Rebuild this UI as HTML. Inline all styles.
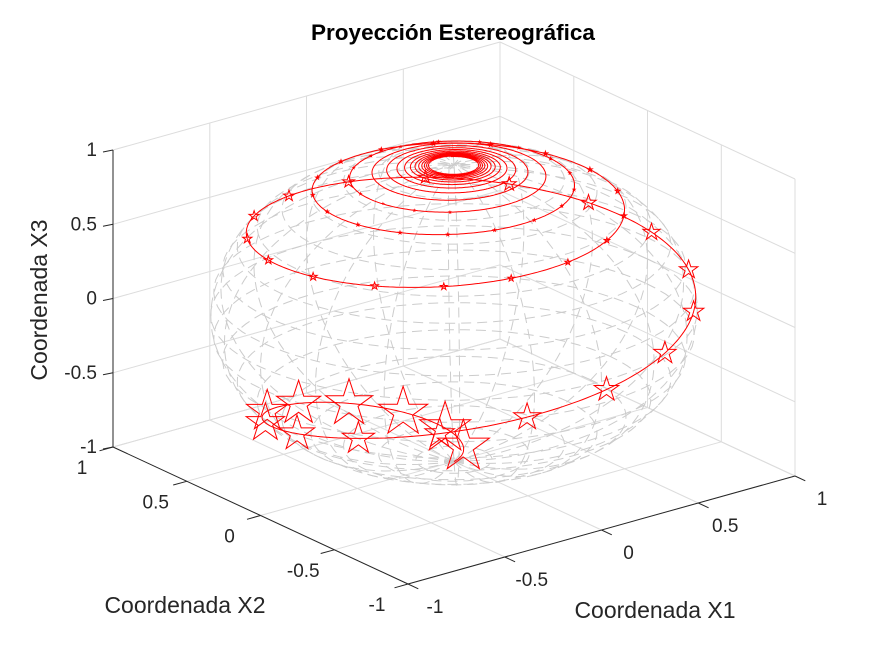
<!DOCTYPE html>
<html><head><meta charset="utf-8">
<style>
html,body{margin:0;padding:0;background:#fff;}
svg{display:block;font-family:"Liberation Sans",Arial,sans-serif;}
</style></head>
<body>
<svg id="chart" width="875" height="656" viewBox="0 0 875 656" xmlns="http://www.w3.org/2000/svg">
<rect width="875" height="656" fill="#fff"/>
<g id="grid"></g>
<g id="sphere"></g>
<g id="curve"></g>
<g id="axes"></g>
<text x="453" y="40" text-anchor="middle" font-size="22.5" font-weight="bold" fill="#000">Proyección Estereográfica</text>
<text x="655" y="618" text-anchor="middle" font-size="23" fill="#262626">Coordenada X1</text>
<text x="185" y="613" text-anchor="middle" font-size="23" fill="#262626">Coordenada X2</text>
<text x="0" y="0" transform="translate(47,300) rotate(-90)" text-anchor="middle" font-size="23" fill="#262626">Coordenada X3</text>
</svg>
<script>
// data
const tickValues = [-1, -0.5, 0, 0.5, 1];
const tickLabels = ["-1", "-0.5", "0", "0.5", "1"];
const spiralRadiusPerRad = [0.211];   // Archimedean spiral in plane: rho = a*theta
const spiralThetaRange = [0, 95];     // radians
const spiralPhase = [0.3];            // longitude offset (rad)
const markerStep = [0.37];            // parameter step between pentagram markers (rad)
const sphereDivisions = [20];

const NS = "http://www.w3.org/2000/svg";
const C = [454, 313], EX = [193.5, -54], EY = [-147.5, -68.5], EZ = [0, -148.5];
function P(x, y, z) { return [C[0] + x*EX[0] + y*EY[0] + z*EZ[0], C[1] + x*EX[1] + y*EY[1] + z*EZ[1]]; }
function mk(tag, attrs, parent) { const e = document.createElementNS(NS, tag); for (const k in attrs) e.setAttribute(k, attrs[k]); parent.appendChild(e); return e; }
function line(a, b, parent, stroke, w, dash) {
  const e = mk('line', {x1:a[0].toFixed(1), y1:a[1].toFixed(1), x2:b[0].toFixed(1), y2:b[1].toFixed(1), stroke:stroke, 'stroke-width':w}, parent);
  if (dash) e.setAttribute('stroke-dasharray', dash);
  return e;
}
const grid = document.getElementById('grid');
const axes = document.getElementById('axes');
const gc = '#dcdcdc';
tickValues.forEach(v => {
  let l = line(P(v,1,-1), P(v,1,1), grid, gc, 1);
   
  l = line(P(-1,1,v), P(1,1,v), grid, gc, 1);
   
  l = line(P(1,v,-1), P(1,v,1), grid, gc, 1);
   
  l = line(P(1,-1,v), P(1,1,v), grid, gc, 1);
   
  l = line(P(v,-1,-1), P(v,1,-1), grid, gc, 1);
   
  l = line(P(-1,v,-1), P(1,v,-1), grid, gc, 1);
   
});
// sphere wireframe
const sph = document.getElementById('sphere');
const N = sphereDivisions[0];
for (let i = 0; i < N; i++) {
  const lon = -Math.PI + 2*Math.PI*i/N;
  let d = '';
  for (let j = 0; j <= 60; j++) {
    const lat = -Math.PI/2 + Math.PI*j/60;
    const p = P(Math.cos(lat)*Math.cos(lon), Math.cos(lat)*Math.sin(lon), Math.sin(lat));
    d += (j ? 'L' : 'M') + p[0].toFixed(1) + ' ' + p[1].toFixed(1);
  }
  const e = mk('path', {d:d, fill:'none', stroke:'#cccccc', 'stroke-width':1, 'stroke-dasharray':'10 6'}, sph);
  
  
}
for (let j = 1; j < N; j++) {
  const lat = -Math.PI/2 + Math.PI*j/N;
  let d = '';
  for (let i = 0; i <= 80; i++) {
    const lon = 2*Math.PI*i/80;
    const p = P(Math.cos(lat)*Math.cos(lon), Math.cos(lat)*Math.sin(lon), Math.sin(lat));
    d += (i ? 'L' : 'M') + p[0].toFixed(1) + ' ' + p[1].toFixed(1);
  }
  const e = mk('path', {d:d, fill:'none', stroke:'#cccccc', 'stroke-width':1, 'stroke-dasharray':'10 6'}, sph);
  
  
}
// spiral curve
const cg = document.getElementById('curve');
function sp(t) {
  const rho = spiralRadiusPerRad[0]*t, ang = t + spiralPhase[0];
  const u = rho*Math.cos(ang), v = rho*Math.sin(ang), q = rho*rho;
  return [2*u/(q+1), 2*v/(q+1), (q-1)/(q+1)];
}
let d = '';
const t0 = spiralThetaRange[0], t1 = spiralThetaRange[1];
for (let t = t0, k = 0; t <= t1; t += 0.02, k++) {
  const s = sp(t), p = P(s[0], s[1], s[2]);
  d += (k ? 'L' : 'M') + p[0].toFixed(1) + ' ' + p[1].toFixed(1);
}
const path = mk('path', {d:d, fill:'none', stroke:'#ff0000', 'stroke-width':1}, cg);


for (let t = t0 + markerStep[0]; t <= t1; t += markerStep[0]) {
  const s = sp(t), p = P(s[0], s[1], s[2]);
  const R = 12*Math.pow(1 - s[2], 1.2);
  if (R < 0.6) continue;
  const r = R*0.382;
  let pts = [];
  for (let i = 0; i < 10; i++) {
    const a = -Math.PI/2 + i*Math.PI/5, rr = i % 2 ? r : R;
    pts.push((p[0] + rr*Math.cos(a)).toFixed(1) + ',' + (p[1] + rr*Math.sin(a)).toFixed(1));
  }
  const st = mk('polygon', {points:pts.join(' '), fill:'none', stroke:'#ff0000', 'stroke-width':1}, cg);
  
  
}
// axes lines
const ac = '#262626';
let a = line(P(-1,1,-1), P(-1,1,1), axes, ac, 1);
 
a = line(P(-1,-1,-1), P(1,-1,-1), axes, ac, 1);
 
a = line(P(-1,-1,-1), P(-1,1,-1), axes, ac, 1);
 
tickValues.forEach((v, i) => {
  let p = P(-1,1,v);
  line(p, [p[0]-10, p[1]+2], axes, ac, 1);
  let t = mk('text', {x:p[0]-16, y:p[1]+6, 'text-anchor':'end', 'font-size':19, fill:ac}, axes);
  t.textContent = tickLabels[i];
   
  p = P(v,-1,-1);
  line(p, [p[0]+EY[0]*-0.07, p[1]+EY[1]*-0.07], axes, ac, 1);
  t = mk('text', {x:p[0]+27, y:p[1]+29, 'text-anchor':'middle', 'font-size':19, fill:ac}, axes);
  t.textContent = tickLabels[i];
   
  p = P(-1,v,-1);
  line(p, [p[0]-EX[0]*0.07, p[1]-EX[1]*0.07], axes, ac, 1);
  t = mk('text', {x:p[0]-31, y:p[1]+27, 'text-anchor':'middle', 'font-size':19, fill:ac}, axes);
  t.textContent = tickLabels[i];
   
});
</script>
</body></html>
